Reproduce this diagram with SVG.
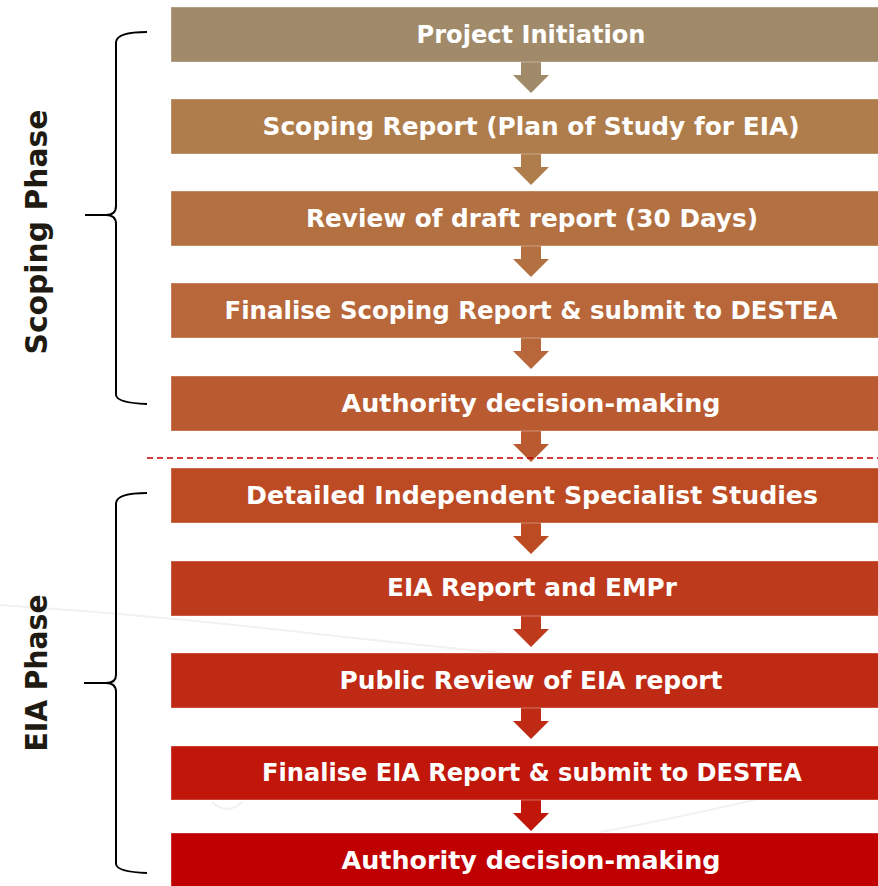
<svg xmlns="http://www.w3.org/2000/svg" width="878" height="886" viewBox="0 0 878 886">
<style>
.box{stroke:#ffffff;stroke-opacity:0.35;stroke-width:1}
.lbl{font-family:"DejaVu Sans","Liberation Sans",sans-serif;font-weight:bold;font-size:24px;fill:#ffffff;text-anchor:middle}
.side{font-family:"DejaVu Sans","Liberation Sans",sans-serif;font-weight:bold;font-size:31px;fill:#1f1b12;text-anchor:middle}
.brace{fill:none;stroke:#000000;stroke-width:2}
</style>
<rect width="878" height="886" fill="#ffffff"/>
<g id="background" fill="none" stroke="#f1f1f1" stroke-width="2">
<path d="M0,605 Q150,615 300,632 T878,690"/>
<path d="M212,802 Q227,816 242,802"/>
<path d="M600,832 Q720,810 878,770"/>
</g>
<g id="connectors">
<path d="M521,62 h20 v13 h8 l-18,18 l-18,-18 h8 z" fill="#A08A69"/>
<path d="M521,154 h20 v13 h8 l-18,18 l-18,-18 h8 z" fill="#AF7D4C"/>
<path d="M521,246 h20 v13 h8 l-18,18 l-18,-18 h8 z" fill="#B37142"/>
<path d="M521,338 h20 v13 h8 l-18,18 l-18,-18 h8 z" fill="#B7673A"/>
<path d="M521,431 h20 v13 h8 l-18,18 l-18,-18 h8 z" fill="#BA5A30"/>
<path d="M521,523 h20 v13 h8 l-18,18 l-18,-18 h8 z" fill="#BC4B24"/>
<path d="M521,616 h20 v13 h8 l-18,18 l-18,-18 h8 z" fill="#BE3A1D"/>
<path d="M521,708 h20 v13 h8 l-18,18 l-18,-18 h8 z" fill="#BF2A14"/>
<path d="M521,800 h20 v13 h8 l-18,18 l-18,-18 h8 z" fill="#C0170A"/>
<line x1="147" y1="458" x2="878" y2="458" stroke="#C00000" stroke-width="1.5" stroke-dasharray="6,4"/>
</g>
<g id="n1"><rect class="box" x="171" y="7" width="720" height="55" fill="#A08A69"/><text class="lbl" x="531" y="43" textLength="229" lengthAdjust="spacingAndGlyphs">Project Initiation</text></g>
<g id="n2"><rect class="box" x="171" y="99" width="720" height="55" fill="#AF7D4C"/><text class="lbl" x="531" y="135" textLength="537" lengthAdjust="spacingAndGlyphs">Scoping Report (Plan of Study for EIA)</text></g>
<g id="n3"><rect class="box" x="171" y="191" width="720" height="55" fill="#B37142"/><text class="lbl" x="532" y="227" textLength="452" lengthAdjust="spacingAndGlyphs">Review of draft report (30 Days)</text></g>
<g id="n4"><rect class="box" x="171" y="283" width="720" height="55" fill="#B7673A"/><text class="lbl" x="531" y="319" textLength="613" lengthAdjust="spacingAndGlyphs">Finalise Scoping Report &amp; submit to DESTEA</text></g>
<g id="n5"><rect class="box" x="171" y="376" width="720" height="55" fill="#BA5A30"/><text class="lbl" x="531" y="412" textLength="379" lengthAdjust="spacingAndGlyphs">Authority decision-making</text></g>
<g id="n6"><rect class="box" x="171" y="468" width="720" height="55" fill="#BC4B24"/><text class="lbl" x="532" y="504" textLength="572" lengthAdjust="spacingAndGlyphs">Detailed Independent Specialist Studies</text></g>
<g id="n7"><rect class="box" x="171" y="561" width="720" height="55" fill="#BE3A1D"/><text class="lbl" x="532" y="596" textLength="290" lengthAdjust="spacingAndGlyphs">EIA Report and EMPr</text></g>
<g id="n8"><rect class="box" x="171" y="653" width="720" height="55" fill="#BF2A14"/><text class="lbl" x="531" y="689" textLength="383" lengthAdjust="spacingAndGlyphs">Public Review of EIA report</text></g>
<g id="n9"><rect class="box" x="171" y="746" width="720" height="54" fill="#C0170A"/><text class="lbl" x="532" y="781" textLength="540" lengthAdjust="spacingAndGlyphs">Finalise EIA Report &amp; submit to DESTEA</text></g>
<g id="n10"><rect class="box" x="171" y="833" width="720" height="60" fill="#C00000"/><text class="lbl" x="531" y="869" textLength="379" lengthAdjust="spacingAndGlyphs">Authority decision-making</text></g>
<g id="scoping-phase">
<path class="brace" d="M147,32 Q117,32 116,42 L116,206 Q116,215 106,215 L85,215 M106,215 Q116,215 116,224 L116,395 Q117,403 147,404"/>
<text class="side" transform="translate(47,232) rotate(-90)" textLength="245" lengthAdjust="spacingAndGlyphs">Scoping Phase</text>
</g>
<g id="eia-phase">
<path class="brace" d="M147,493 Q117,493 116,503 L116,675 Q116,683 106,683 L84,683 M106,683 Q116,683 116,692 L116,864 Q117,872 147,873"/>
<text class="side" transform="translate(47,673) rotate(-90)" textLength="157" lengthAdjust="spacingAndGlyphs">EIA Phase</text>
</g>
</svg>
